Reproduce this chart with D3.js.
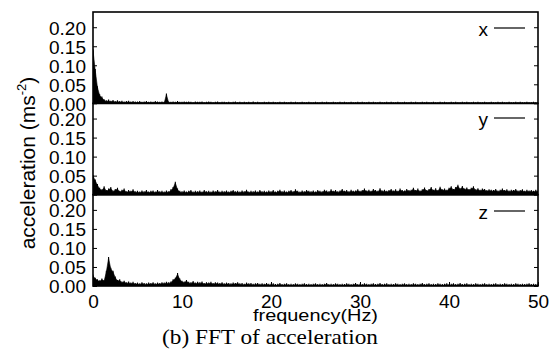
<!DOCTYPE html>
<html>
<head>
<meta charset="utf-8">
<script src="https://cdn.jsdelivr.net/npm/d3@7"></script>
<style>
  body { margin: 0; background: #fff; }
  text { fill: #000; }
</style>
</head>
<body>
<svg id="chart" width="557" height="352"></svg>
<script>
// FFT amplitude spectra (m/s^2) of the three acceleration axes, 0–50 Hz in 0.25 Hz bins
const freqStep = 0.25;

const accX = [
  .142,.090,.045,.024,.018,.011,.008,.010,.007,.009,.006,.008,.006,.007,.005,.006,.007,.005,.006,.005,
  .005,.006,.004,.005,.006,.004,.005,.004,.006,.005,.004,.005,.004,.026,.005,.004,.005,.004,.006,.004,
  .004,.005,.004,.005,.004,.003,.005,.004,.004,.005,.003,.004,.005,.004,.003,.004,.005,.003,.004,.004,
  .003,.004,.003,.004,.005,.003,.004,.003,.004,.003,.004,.003,.005,.003,.004,.003,.003,.004,.003,.004,
  .003,.004,.003,.003,.004,.003,.004,.003,.003,.004,.003,.004,.003,.003,.004,.003,.003,.004,.003,.003,
  .004,.003,.003,.004,.003,.004,.003,.003,.004,.003,.003,.004,.003,.004,.003,.003,.004,.003,.003,.004,
  .003,.004,.003,.003,.004,.003,.004,.003,.003,.004,.003,.003,.004,.003,.004,.003,.003,.004,.003,.003,
  .004,.003,.003,.004,.003,.004,.003,.003,.004,.003,.004,.003,.003,.004,.003,.003,.004,.003,.004,.003,
  .003,.004,.003,.004,.003,.003,.004,.003,.004,.003,.003,.004,.003,.004,.003,.003,.004,.003,.003,.004,
  .003,.003,.004,.003,.004,.003,.003,.004,.003,.003,.004,.003,.004,.003,.003,.004,.003,.003,.004,.003,
  .003
];

const accY = [
  .052,.040,.028,.018,.014,.022,.012,.016,.020,.011,.015,.018,.010,.013,.016,.009,.012,.010,.014,.009,
  .010,.008,.011,.009,.012,.008,.010,.011,.008,.012,.009,.010,.008,.011,.009,.014,.020,.034,.016,.010,
  .009,.011,.008,.010,.012,.008,.010,.009,.011,.008,.012,.009,.010,.008,.011,.009,.012,.008,.010,.009,
  .011,.008,.010,.012,.009,.010,.008,.011,.009,.013,.008,.010,.009,.011,.008,.012,.009,.010,.008,.011,
  .009,.012,.008,.010,.013,.009,.011,.008,.010,.012,.009,.014,.010,.008,.011,.009,.012,.010,.009,.011,
  .008,.012,.010,.009,.013,.011,.009,.014,.010,.012,.009,.011,.015,.010,.012,.009,.013,.010,.011,.014,
  .010,.012,.016,.011,.013,.010,.015,.012,.010,.017,.011,.013,.010,.012,.015,.011,.014,.010,.016,.012,
  .011,.015,.012,.013,.018,.012,.016,.011,.014,.019,.012,.015,.020,.013,.017,.012,.021,.014,.016,.013,
  .018,.022,.015,.020,.026,.017,.023,.016,.019,.015,.018,.022,.014,.017,.013,.016,.015,.012,.014,.013,
  .012,.015,.011,.013,.016,.012,.014,.011,.013,.012,.015,.011,.012,.014,.010,.013,.011,.012,.010,.013,
  .011
];

const accZ = [
  .030,.022,.018,.015,.020,.016,.040,.076,.048,.040,.025,.016,.018,.012,.014,.010,.012,.009,.011,.008,
  .009,.007,.010,.008,.007,.009,.008,.010,.007,.009,.008,.010,.009,.011,.010,.012,.018,.022,.034,.020,
  .014,.012,.016,.011,.010,.013,.009,.011,.010,.012,.008,.010,.009,.011,.008,.010,.009,.008,.010,.007,
  .009,.008,.007,.009,.008,.010,.007,.008,.006,.009,.007,.008,.006,.007,.008,.006,.007,.006,.008,.006,
  .006,.007,.005,.006,.008,.005,.006,.007,.005,.006,.005,.007,.006,.005,.006,.007,.005,.006,.005,.006,
  .007,.005,.006,.005,.006,.008,.005,.006,.005,.007,.006,.005,.006,.005,.007,.006,.005,.006,.008,.005,
  .006,.005,.007,.006,.005,.006,.007,.005,.006,.008,.005,.006,.007,.005,.006,.005,.007,.006,.005,.006,
  .007,.005,.006,.005,.007,.006,.005,.006,.008,.005,.006,.007,.005,.006,.005,.007,.006,.005,.006,.007,
  .005,.006,.007,.005,.006,.008,.005,.006,.007,.005,.006,.005,.007,.006,.005,.006,.007,.005,.006,.005,
  .006,.007,.005,.006,.005,.007,.006,.005,.006,.005,.007,.006,.005,.006,.005,.006,.007,.005,.006,.005,
  .006
];

const seriesNames = ["x", "y", "z"];
const seriesData = [accX, accY, accZ];
const yTickValues = [0, 0.05, 0.10, 0.15, 0.20];
const xTickValues = [0, 10, 20, 30, 40, 50];
const yMax = 0.24;
const xMax = 50;

const svg = d3.select("#chart");
const plotLeft = 93, plotRight = 538, plotTop = 12, plotBottom = 286;
const panelH = (plotBottom - plotTop) / seriesData.length;

const x = d3.scaleLinear().domain([0, xMax]).range([plotLeft, plotRight]);

const sans = "'Liberation Sans', Arial, sans-serif";
const serif = "'Liberation Serif', 'Times New Roman', serif";

seriesData.forEach((vals, p) => {
  const y0 = plotTop + p * panelH;
  const y = d3.scaleLinear().domain([0, yMax]).range([y0 + panelH, y0]);
  const g = svg.append("g");

  const pts = vals.map((v, i) => [i * freqStep, v]);

  const clipId = "clip" + p;
  svg.append("clipPath").attr("id", clipId)
    .append("rect").attr("x", plotLeft).attr("y", y0).attr("width", plotRight - plotLeft).attr("height", panelH);

  const spec = g.append("g").attr("clip-path", `url(#${clipId})`);

  // thin outline of the spectrum plus a stem for every frequency bin
  spec.append("path")
    .datum(pts)
    .attr("fill", "#000")
    .attr("stroke", "#000")
    .attr("stroke-width", 0.6)
    .attr("d", d3.area().x(d => x(d[0])).y0(y(0)).y1(d => y(d[1]) + 1.2));
  spec.selectAll("line.stem")
    .data(pts)
    .join("line")
    .attr("class", "stem")
    .attr("x1", d => x(d[0])).attr("x2", d => x(d[0]))
    .attr("y1", y(0)).attr("y2", d => y(d[1]))
    .attr("stroke", "#000")
    .attr("stroke-width", 1.1);

  // left axis: labels with inward ticks
  const leftAxis = d3.axisLeft(y).tickValues(yTickValues).tickFormat(d3.format(".2f"))
    .tickSizeInner(-4).tickSizeOuter(0).tickPadding(7);
  const la = g.append("g").attr("transform", `translate(${plotLeft},0)`).call(leftAxis);
  la.select(".domain").remove();
  la.selectAll("line").attr("stroke", "#000").attr("stroke-width", 1);
  la.selectAll("text")
    .attr("font-family", sans).attr("font-size", 19).attr("fill", "#000")
    .attr("dy", "0.36em");

  // right axis: inward ticks only
  const rightAxis = d3.axisRight(y).tickValues(yTickValues).tickFormat("")
    .tickSizeInner(-4).tickSizeOuter(0);
  const ra = g.append("g").attr("transform", `translate(${plotRight},0)`).call(rightAxis);
  ra.select(".domain").remove();
  ra.selectAll("line").attr("stroke", "#000").attr("stroke-width", 1);

  // panel frame
  g.append("rect")
    .attr("x", plotLeft).attr("y", y0).attr("width", plotRight - plotLeft).attr("height", panelH)
    .attr("fill", "none").attr("stroke", "#000").attr("stroke-width", 1.6);

  // legend entry
  const legY = [29, 119, 212][p];
  g.append("text")
    .attr("x", 488).attr("y", legY).attr("dy", "0.35em")
    .attr("text-anchor", "end")
    .attr("font-family", sans).attr("font-size", 19)
    .text(seriesNames[p]);
  g.append("line")
    .attr("x1", 494).attr("x2", 525).attr("y1", legY - 1).attr("y2", legY - 1)
    .attr("stroke", "#000").attr("stroke-width", 1.2);
});

// shared frequency axis along the bottom panel
const xAxis = d3.axisBottom(x).tickValues(xTickValues).tickFormat(d3.format("d"))
  .tickSizeInner(-4).tickSizeOuter(0).tickPadding(9);
const xa = svg.append("g").attr("transform", `translate(0,${plotBottom})`).call(xAxis);
xa.select(".domain").remove();
xa.selectAll("line").attr("stroke", "#000");
xa.selectAll("text")
  .attr("font-family", sans).attr("font-size", 19).attr("fill", "#000");

svg.append("text")
  .attr("x", (plotLeft + plotRight) / 2).attr("y", 321)
  .attr("text-anchor", "middle")
  .attr("font-family", sans).attr("font-size", 17)
  .attr("textLength", 125).attr("lengthAdjust", "spacingAndGlyphs")
  .text("frequency(Hz)");

// y-axis title with superscript unit exponent
const yTitle = svg.append("text")
  .attr("transform", `translate(35,${(plotTop + plotBottom) / 2 + 14}) rotate(-90)`)
  .attr("text-anchor", "middle")
  .attr("font-family", sans).attr("font-size", 21);
yTitle.append("tspan").text("acceleration (ms");
yTitle.append("tspan").attr("font-size", 13).attr("dy", -9).text("-2");
yTitle.append("tspan").attr("dy", 9).text(")");

svg.append("text")
  .attr("x", 270).attr("y", 344)
  .attr("text-anchor", "middle")
  .attr("font-family", serif).attr("font-size", 21)
  .attr("textLength", 216).attr("lengthAdjust", "spacingAndGlyphs")
  .text("(b) FFT of acceleration");
</script>
</body>
</html>
